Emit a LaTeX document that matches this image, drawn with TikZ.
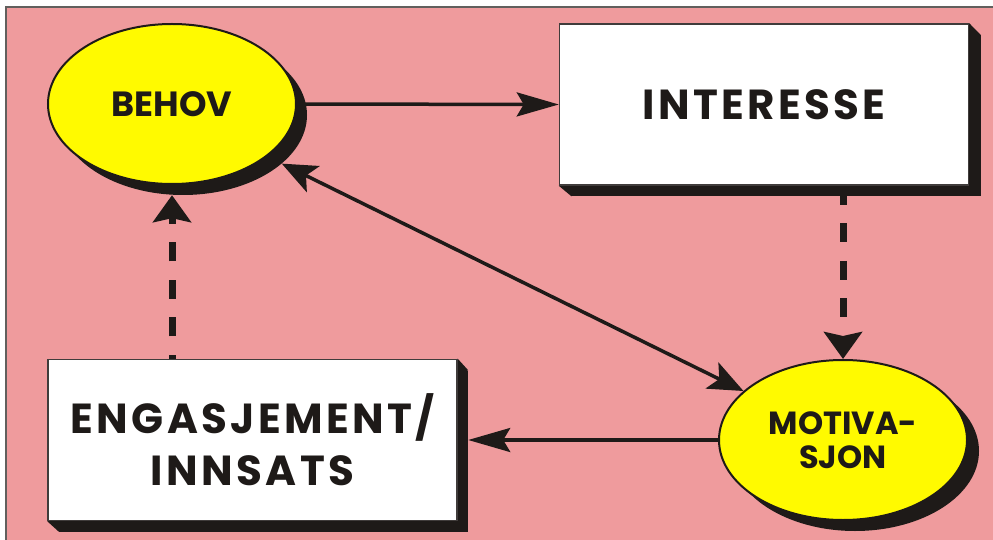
\documentclass[tikz,border=0pt]{standalone}
\usepackage{fontspec}
\setmainfont{Poppins}
\usetikzlibrary{shapes.geometric,arrows.meta,calc}
\definecolor{bgpink}{RGB}{239,155,157}
\definecolor{shadowc}{RGB}{30,26,24}
\definecolor{yel}{RGB}{255,250,0}
\pgfdeclarelayer{back}
\pgfdeclarelayer{shade}
\pgfsetlayers{back,shade,main}
\begin{document}
\begin{tikzpicture}[x=1pt,y=-1pt,
  ell/.style={ellipse, draw=shadowc, line width=2pt, fill=yel, minimum width=248pt, minimum height=160pt, inner sep=0pt, align=center, text=shadowc},
  ellshade/.style={ellipse, fill=shadowc, minimum width=248pt, minimum height=160pt, inner sep=0pt},
  box/.style={rectangle, draw=shadowc!85, line width=1.5pt, fill=white, minimum width=409pt, minimum height=161pt, inner sep=0pt, align=center, text=shadowc},
  boxshade/.style={rectangle, fill=shadowc, minimum width=409pt, minimum height=161pt, inner sep=0pt},
  flowarr/.style={draw=shadowc, line width=3.5pt, -{Stealth[length=42pt, width=24pt, inset=7pt]}},
  diagarr/.style={draw=shadowc, line width=3.5pt, {Stealth[length=35pt, width=29pt, inset=8pt]}-{Stealth[length=35pt, width=29pt, inset=8pt]}},
  dasharr/.style={draw=shadowc, line width=7pt, dash pattern=on 19pt off 18.5pt, -{Stealth[length=27pt, width=38pt, inset=4pt]}}
]
\path[use as bounding box] (0,0) rectangle (993,540);

% main nodes
\node[ell, font={\fontsize{35}{40}\selectfont\bfseries}] (behov) at (172,104) {BEHOV};
\node[box, font={\fontsize{42}{48}\selectfont\bfseries\addfontfeatures{LetterSpace=8}}] (interesse) at (764,104.5) {INTERESSE};
\node[ell, font={\fontsize{32}{35}\selectfont\bfseries}] (motiv) at (843,440) {MOTIVA-\\[-1pt]SJON};
\node[box, font={\fontsize{42}{52}\selectfont\bfseries\addfontfeatures{LetterSpace=8}}] (eng) at (252.5,440) {ENGASJEMENT/\\INNSATS};

% shadows
\begin{pgfonlayer}{shade}
\node[ellshade] (behovsh) at ($(behov.center)+(11,11)$) {};
\node[ellshade] (motivsh) at ($(motiv.center)+(12,11)$) {};
\node[boxshade] (interessesh) at ($(interesse.center)+(12,11)$) {};
\node[boxshade] (engsh) at ($(eng.center)+(11,11)$) {};
\fill[shadowc] (interesse.north east) -- (interessesh.north east) -- (interessesh.south west) -- (interesse.south west) -- cycle;
\fill[shadowc] (eng.north east) -- (engsh.north east) -- (engsh.south west) -- (eng.south west) -- cycle;
\end{pgfonlayer}

% background and connectors
\begin{pgfonlayer}{back}
\fill[bgpink] (6,7) rectangle (993,540);
\draw[shadowc!70, line width=1.5pt] (6,540) -- (6,7) -- (993,7);
\draw[flowarr] (behov.east) -- (interesse.west);
\draw[dasharr] (motiv.north |- interesse.south) -- (motiv.north);
\draw[flowarr] (motiv.west) -- (engsh.east |- motiv.west);
\draw[dasharr, dash phase=15pt] (behov.center |- eng.north) -- (behov.center |- behovsh.south);
\draw[diagarr] (behovsh) -- (motiv);
\end{pgfonlayer}
\end{tikzpicture}
\end{document}
